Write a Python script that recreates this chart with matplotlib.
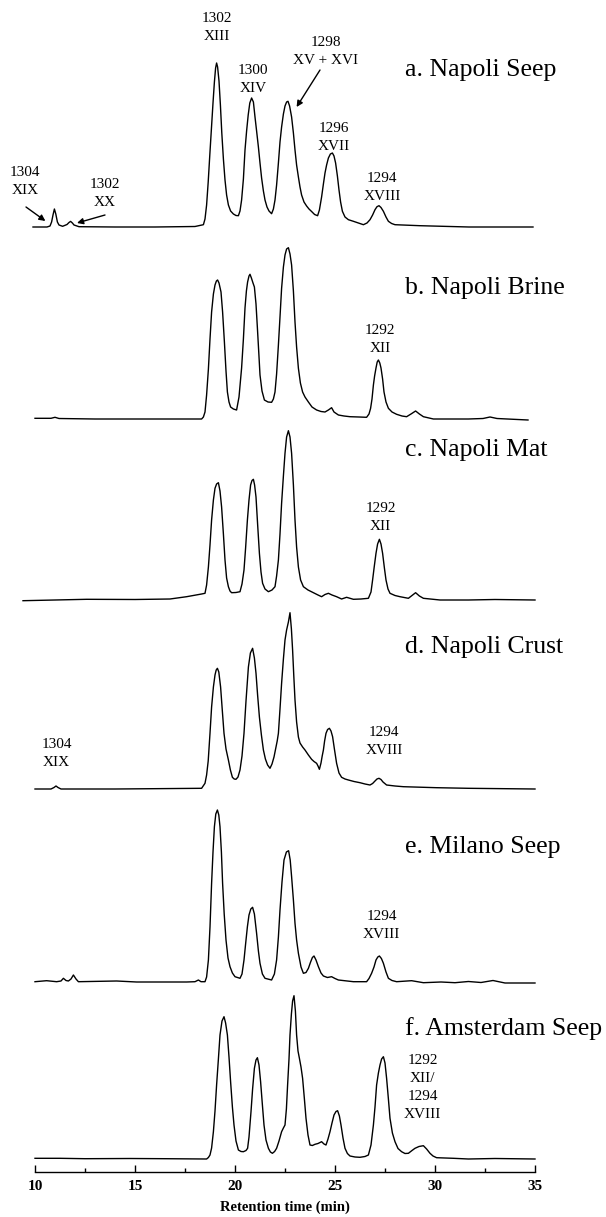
import matplotlib
matplotlib.use("Agg")
import matplotlib.pyplot as plt
from matplotlib.ticker import MultipleLocator

plt.rcParams['font.family'] = ['Liberation Serif', 'DejaVu Serif']

# ---------------- data: (retention time [min], detector response [arb. units]) -------------
samples = ["a. Napoli Seep", "b. Napoli Brine", "c. Napoli Mat",
           "d. Napoli Crust", "e. Milano Seep", "f. Amsterdam Seep"]

trace_a = [
    (9.9, 0), (10.6, 0), (10.75, 1), (10.83, 5), (10.9, 12), (10.97, 18), (11.04, 13), (11.12, 5),
    (11.2, 2), (11.38, 0.7), (11.6, 2.5), (11.7, 4.5), (11.78, 5.6), (11.87, 4), (11.95, 2), (12.2, 0.3),
    (14.0, 0), (16.0, 0), (18.0, 0.5), (18.42, 2.3), (18.5, 8), (18.58, 22), (18.66, 45), (18.74, 72),
    (18.82, 98), (18.9, 124), (18.97, 145), (19.03, 159), (19.08, 164), (19.13, 160), (19.2, 146),
    (19.27, 122), (19.34, 94), (19.42, 68), (19.5, 47), (19.58, 32), (19.67, 22), (19.78, 16),
    (19.92, 13), (20.05, 11.5), (20.17, 11.3), (20.25, 16), (20.33, 27), (20.42, 48), (20.5, 77),
    (20.58, 96), (20.66, 112), (20.74, 124), (20.83, 129), (20.92, 125), (21.0, 110), (21.08, 96),
    (21.17, 80), (21.25, 64), (21.33, 49), (21.42, 36), (21.5, 27), (21.6, 20), (21.7, 16),
    (21.83, 13.3), (21.92, 18), (22.0, 27), (22.08, 42), (22.17, 64), (22.25, 85), (22.33, 100),
    (22.42, 113), (22.5, 121), (22.58, 125), (22.65, 125.7), (22.73, 121), (22.83, 110), (22.92, 94),
    (23.0, 77), (23.08, 62), (23.17, 50), (23.25, 40), (23.33, 32), (23.45, 25), (23.58, 21),
    (23.7, 18), (23.83, 15.5), (23.98, 12.5), (24.13, 11.3), (24.22, 17), (24.33, 30), (24.42, 43),
    (24.5, 54), (24.58, 62), (24.67, 69), (24.77, 73), (24.87, 74), (24.95, 71), (25.03, 64),
    (25.12, 51), (25.2, 37), (25.28, 25), (25.37, 15.7), (25.5, 10), (25.67, 7.3), (25.92, 5.7),
    (26.42, 2.3), (26.6, 4), (26.75, 7.3), (26.88, 12), (27.0, 17.3), (27.1, 20.3), (27.2, 21.3),
    (27.3, 19.5), (27.42, 15.7), (27.55, 10), (27.67, 5.7), (27.83, 3.5), (28.0, 2.3), (29.25, 1.3),
    (31.7, 0), (33.5, 0), (34.9, 0)]

trace_b = [
    (10.0, 0.7), (10.8, 0.7), (11.0, 1.7), (11.2, 0.5), (13.0, 0), (16.0, 0), (18.33, 0), (18.42, 2),
    (18.5, 7), (18.58, 24), (18.67, 50), (18.75, 80), (18.83, 107), (18.92, 125), (19.0, 134),
    (19.07, 138), (19.13, 139), (19.2, 136), (19.3, 127), (19.38, 107), (19.47, 77), (19.55, 48),
    (19.62, 27), (19.7, 17), (19.78, 12), (19.92, 10), (20.08, 9), (20.2, 22), (20.33, 51),
    (20.42, 80), (20.5, 111), (20.57, 128), (20.63, 137), (20.7, 143), (20.75, 144.7), (20.82, 141),
    (20.9, 136), (20.97, 132), (21.05, 115), (21.12, 91), (21.19, 66), (21.25, 44), (21.35, 28),
    (21.47, 19), (21.65, 17), (21.83, 16.7), (21.92, 20), (22.0, 27), (22.08, 45), (22.17, 74),
    (22.25, 102), (22.33, 130.7), (22.42, 152), (22.5, 164), (22.58, 170), (22.67, 171.3),
    (22.75, 165), (22.83, 154), (22.92, 128), (23.0, 97), (23.08, 72), (23.17, 50.7), (23.27, 36),
    (23.38, 27), (23.5, 22), (23.67, 17), (23.85, 12), (24.08, 9), (24.3, 7.5), (24.5, 7),
    (24.67, 9), (24.83, 11.3), (24.95, 7), (25.17, 4), (25.45, 3), (25.75, 2.3), (26.2, 2),
    (26.58, 1.7), (26.7, 5), (26.78, 10.7), (26.85, 20), (26.92, 34), (26.98, 43), (27.05, 51),
    (27.11, 57), (27.17, 59), (27.24, 56), (27.3, 51), (27.38, 40), (27.45, 27), (27.55, 17),
    (27.67, 10.7), (27.85, 7), (28.08, 4.7), (28.35, 3), (28.58, 2.3), (28.8, 5), (29.03, 8),
    (29.22, 5), (29.42, 2.3), (29.92, 0), (31.67, 0), (32.4, 0.5), (32.75, 2), (33.1, 0.5),
    (34.65, -1)]

trace_c = [
    (9.4, -0.7), (11.0, 0), (12.58, 0.7), (15.0, 0.5), (16.75, 1), (17.58, 3.3), (18.33, 6),
    (18.5, 6.7), (18.58, 15), (18.67, 33), (18.75, 55), (18.83, 80), (18.92, 100), (19.0, 111.7),
    (19.08, 116), (19.17, 117.3), (19.25, 109), (19.33, 93), (19.42, 66), (19.5, 40), (19.58, 22),
    (19.67, 13.3), (19.75, 9), (19.83, 7.3), (20.05, 7.5), (20.25, 8.3), (20.35, 16), (20.45, 30),
    (20.53, 52), (20.62, 80), (20.7, 100), (20.78, 115), (20.85, 119.5), (20.92, 120.7),
    (20.98, 115), (21.05, 103), (21.13, 76), (21.22, 46.7), (21.3, 28), (21.38, 16.7), (21.5, 11),
    (21.67, 8.3), (21.85, 10), (22.0, 13.3), (22.08, 24), (22.17, 40), (22.25, 66), (22.33, 96.7),
    (22.42, 124), (22.5, 146.7), (22.58, 163), (22.67, 169.3), (22.75, 163), (22.83, 146.7),
    (22.92, 115), (23.0, 80), (23.08, 53), (23.17, 33), (23.28, 20), (23.42, 13.3), (23.65, 10),
    (23.92, 7.3), (24.15, 5), (24.33, 3.3), (24.5, 5.5), (24.67, 6.7), (24.85, 5), (25.08, 3.3),
    (25.33, 1), (25.58, 2.7), (25.92, 0.7), (26.3, 1), (26.67, 1.7), (26.8, 8), (26.88, 20),
    (26.96, 33), (27.05, 46.7), (27.13, 56), (27.22, 60.7), (27.3, 56), (27.38, 46.7), (27.47, 32),
    (27.55, 20), (27.65, 11), (27.75, 6.7), (28.0, 4.5), (28.25, 3.3), (28.67, 1.7), (28.85, 4.5),
    (29.03, 7.3), (29.22, 4), (29.42, 1.7), (30.25, 0), (31.67, 0), (33.0, 0.5), (35.0, 0)]

trace_d = [
    (10.0, 0), (10.8, 0), (10.95, 1.5), (11.05, 3), (11.15, 1.5), (11.3, 0), (14.0, 0), (18.33, 0.7),
    (18.5, 5.7), (18.58, 14), (18.66, 28), (18.75, 55.7), (18.83, 82), (18.92, 102), (19.0, 114),
    (19.06, 119), (19.12, 120.7), (19.19, 117), (19.28, 102), (19.36, 80), (19.45, 55.7), (19.55, 40),
    (19.67, 29), (19.77, 19), (19.87, 11.7), (19.96, 10), (20.05, 9.7), (20.15, 12), (20.25, 19),
    (20.35, 33), (20.45, 55.7), (20.55, 88), (20.67, 122), (20.77, 136), (20.88, 140.7),
    (20.97, 131), (21.05, 115.7), (21.13, 94), (21.22, 72), (21.32, 54), (21.42, 39), (21.52, 30),
    (21.63, 24), (21.75, 20.7), (21.85, 25), (21.95, 32), (22.05, 42), (22.11, 48), (22.17, 55.7),
    (22.25, 80), (22.33, 105.7), (22.42, 130), (22.5, 149), (22.58, 159), (22.67, 167),
    (22.75, 176.3), (22.82, 160), (22.88, 139), (22.94, 113), (23.0, 89), (23.08, 67), (23.17, 52),
    (23.25, 46), (23.38, 42), (23.5, 39), (23.67, 34), (23.83, 29.7), (23.95, 27.5), (24.08, 25.7),
    (24.15, 23), (24.22, 19.7), (24.3, 26), (24.36, 33), (24.42, 39), (24.48, 48), (24.55, 55.7),
    (24.63, 59.5), (24.72, 60.7), (24.8, 58), (24.88, 52.3), (24.97, 40), (25.08, 25.7), (25.2, 16),
    (25.33, 11.7), (25.5, 10), (25.67, 9), (25.95, 7.5), (26.25, 6.3), (26.5, 5), (26.75, 4),
    (26.88, 5.5), (27.0, 8), (27.1, 10), (27.2, 10.7), (27.3, 9.5), (27.4, 7), (27.58, 4), (28.0, 3),
    (28.42, 2.3), (30.08, 1.3), (31.67, 0.7), (35.0, 0)]

trace_e = [
    (10.0, 0.3), (10.58, 1.3), (11.08, 0.3), (11.3, 1), (11.42, 3.7), (11.55, 1.5), (11.67, 1),
    (11.8, 3), (11.92, 7), (12.05, 3), (12.17, 0.3), (14.08, 1), (15.08, 0), (17.58, 0), (18.0, 0.3),
    (18.17, 2), (18.3, 0.3), (18.5, 0.3), (18.58, 5), (18.67, 22), (18.75, 55), (18.83, 98.7),
    (18.9, 130), (18.97, 155.3), (19.04, 168), (19.12, 172), (19.19, 167), (19.25, 155.3),
    (19.32, 130), (19.38, 98.7), (19.46, 68), (19.55, 42), (19.65, 24), (19.75, 15.3), (19.87, 9),
    (20.0, 5.3), (20.25, 3.7), (20.35, 8), (20.45, 22), (20.53, 38), (20.62, 55.3), (20.7, 67),
    (20.79, 73), (20.88, 74.7), (20.97, 68), (21.08, 48.7), (21.17, 31), (21.25, 18.7), (21.37, 8),
    (21.5, 3.7), (21.83, 2), (21.97, 8), (22.08, 22), (22.17, 45), (22.25, 72), (22.35, 100),
    (22.45, 122), (22.57, 130), (22.68, 131.3), (22.76, 122), (22.83, 105.3), (22.92, 82),
    (23.0, 58.7), (23.08, 42), (23.17, 28.7), (23.3, 15), (23.42, 8.7), (23.55, 9.5), (23.67, 13.7),
    (23.78, 20), (23.87, 24.5), (23.95, 26), (24.05, 22), (24.17, 15.3), (24.3, 9), (24.42, 6),
    (24.62, 4.5), (24.83, 5.3), (25.0, 3.5), (25.17, 2), (25.92, 0.3), (26.58, 0.3), (26.7, 3.5),
    (26.83, 8.7), (26.95, 15), (27.05, 22), (27.14, 25), (27.22, 26), (27.32, 23.5), (27.42, 18.7),
    (27.55, 10), (27.67, 3.7), (27.85, 1.5), (28.08, 0.3), (28.83, 1.3), (29.42, -0.7), (30.3, 0),
    (31.0, -0.7), (31.67, 0.5), (32.3, -0.5), (32.9, 1.5), (33.5, -1), (35.0, -1)]

trace_f = [
    (10.0, 0.7), (11.25, 0.7), (12.5, 0.3), (14.75, 0.5), (16.5, 0.3), (18.58, 0), (18.67, 1.5),
    (18.75, 4), (18.83, 11), (18.92, 27.3), (19.0, 48), (19.08, 74), (19.17, 100), (19.25, 124),
    (19.35, 138), (19.45, 142.3), (19.53, 136), (19.62, 124), (19.7, 102), (19.78, 77.3),
    (19.87, 52), (19.95, 34), (20.05, 18), (20.17, 9), (20.3, 7.5), (20.42, 7.3), (20.55, 8.5),
    (20.63, 10.7), (20.7, 22), (20.8, 47.3), (20.88, 70), (20.97, 90.7), (21.05, 99), (21.12, 101.3),
    (21.2, 94), (21.28, 77.3), (21.37, 54), (21.45, 34), (21.55, 19), (21.67, 10.7), (21.77, 7),
    (21.87, 5.7), (21.98, 7.5), (22.08, 10.7), (22.2, 18), (22.33, 27.3), (22.42, 31), (22.5, 34),
    (22.57, 50), (22.63, 74), (22.7, 100), (22.75, 124), (22.82, 145), (22.88, 158), (22.95, 163.3),
    (23.02, 148), (23.08, 124), (23.15, 108), (23.22, 100.7), (23.3, 92), (23.38, 80.7), (23.47, 60),
    (23.55, 40.7), (23.65, 24), (23.75, 14), (23.87, 13.5), (24.0, 14.7), (24.15, 15.5),
    (24.33, 17.3), (24.45, 15), (24.55, 14), (24.65, 20), (24.75, 27.3), (24.85, 36), (24.95, 44),
    (25.05, 47.5), (25.13, 48.3), (25.22, 43), (25.3, 34), (25.4, 21), (25.5, 10.7), (25.62, 5.5),
    (25.75, 3), (26.0, 2), (26.25, 1.7), (26.5, 2.5), (26.67, 4), (26.8, 14), (26.92, 34),
    (27.0, 52), (27.08, 74), (27.17, 86), (27.25, 94), (27.33, 100), (27.42, 102.3), (27.5, 96),
    (27.58, 80.7), (27.67, 60), (27.75, 40.7), (27.87, 26), (28.0, 17.3), (28.15, 10.5),
    (28.33, 7.3), (28.5, 5.5), (28.67, 5.7), (28.85, 8.5), (29.0, 10.7), (29.2, 12.5), (29.42, 13.3),
    (29.58, 10), (29.75, 5.7), (29.9, 3), (30.08, 1.3), (30.92, 0.7), (31.67, 0), (33.0, 0.5),
    (35.0, 0)]

traces = [trace_a, trace_b, trace_c, trace_d, trace_e, trace_f]

# peak labels (text, retention time, vertical position)
peak_labels = [
    ("1302\nXIII", 19.1, 1144),
    ("1300\nXIV", 20.92, 1092),
    ("1298\nXV + XVI", 24.55, 1120),
    ("1296\nXVII", 24.95, 1035),
    ("1294\nXVIII", 27.35, 984),
    ("1304\nXIX", 9.5, 990),
    ("1302\nXX", 13.5, 979),
    ("1292\nXII", 27.25, 832),
    ("1292\nXII", 27.28, 655),
    ("1304\nXIX", 11.08, 418),
    ("1294\nXVIII", 27.45, 430),
    ("1294\nXVIII", 27.33, 246),
    ("1292\nXII/\n1294\nXVIII", 29.38, 85),
]
# arrows: (tail x, tail y, head x, head y)
arrows = [
    (9.55, 965, 10.52, 951),
    (13.5, 957, 12.1, 949),
    (24.25, 1102, 23.08, 1065),
]

# ---------------- layout ----------------
W, H = 606, 1217
fig = plt.figure(figsize=(W / 100, H / 100), dpi=100)
ax = fig.add_axes([35 / W, (H - 1172) / H, 500 / W, 1172 / H])
ax.set_xlim(10, 35)
ax.set_ylim(0, 1172)

offsets = [945, 753, 572, 383, 190, 13]
title_y = [1096, 878, 716, 519, 319, 137]

for tr, off in zip(traces, offsets):
    t = [p[0] for p in tr]
    h = [p[1] + off for p in tr]
    ax.plot(t, h, color='black', lw=1.0, clip_on=False, solid_joinstyle='round')

for name, ty in zip(samples, title_y):
    ax.text(28.5, ty, name, fontsize=18.5, ha='left', va='baseline')

for txt, x, y in peak_labels:
    ax.text(x, y, txt, fontsize=11, ha='center', va='center', linespacing=1.5)

for x0, y0, x1, y1 in arrows:
    ax.annotate('', xy=(x1, y1), xytext=(x0, y0),
                arrowprops=dict(arrowstyle='-|>', color='black', lw=1.0,
                                mutation_scale=9, shrinkA=0, shrinkB=0))

for s in ['top', 'left', 'right']:
    ax.spines[s].set_visible(False)
ax.spines['bottom'].set_linewidth(1.0)
ax.set_yticks([])
ax.xaxis.set_major_locator(MultipleLocator(5))
ax.xaxis.set_minor_locator(MultipleLocator(2.5))
ax.tick_params(axis='x', which='major', direction='in', length=5, width=1.0, pad=6,
               labelsize=11)
ax.tick_params(axis='x', which='minor', direction='in', length=3, width=1.0)
for lab in ax.get_xticklabels():
    lab.set_fontweight('bold')
ax.set_xlabel('Retention time (min)', fontsize=10.5, fontweight='bold', labelpad=5)

fig.savefig('out.png', dpi=100)
